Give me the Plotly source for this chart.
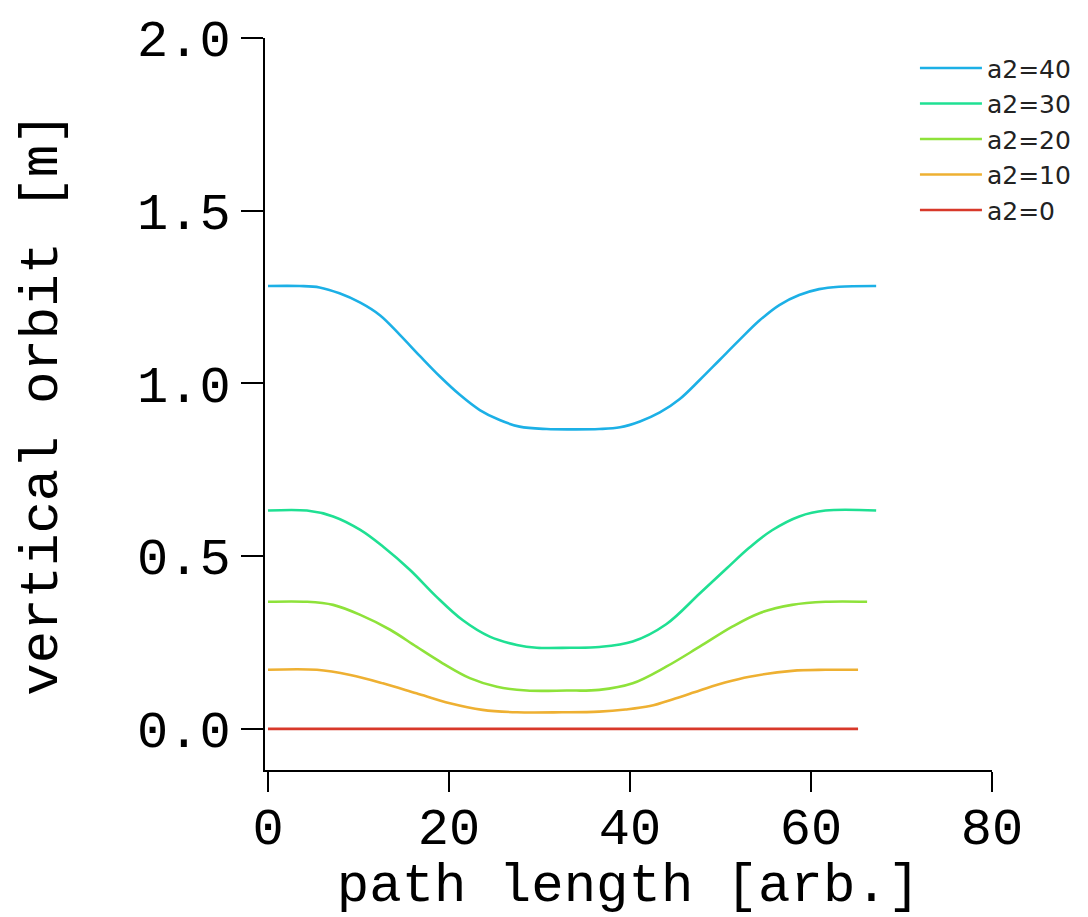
import plotly.graph_objects as go

# ---- data ----
x_a40 = [0, 3.5, 5.7, 7.9, 10.2, 12.4, 14.6, 16.8, 19.0, 21.2, 23.4, 25.6, 27.8, 30.8, 33.7,
         36.6, 38.9, 41.1, 43.3, 45.5, 47.7, 49.9, 52.1, 54.3, 56.5, 58.7, 60.9, 63.1, 67.2]
y_a40 = [1.282, 1.282, 1.278, 1.261, 1.234, 1.197, 1.140, 1.079, 1.020, 0.967, 0.923, 0.894, 0.875, 0.868, 0.867,
         0.868, 0.873, 0.890, 0.916, 0.955, 1.010, 1.068, 1.126, 1.182, 1.227, 1.256, 1.273, 1.280, 1.282]

x_a30 = [0, 4.3, 7.2, 10.2, 12.7, 15.7, 18.6, 21.5, 24.5, 27.5, 29.7, 33.4, 36.6, 40.3, 44.0, 47.7, 50.7, 53.2, 55.7, 58.7, 61.6, 67.2]
y_a30 = [0.632, 0.632, 0.615, 0.576, 0.528, 0.460, 0.383, 0.315, 0.267, 0.243, 0.235, 0.235, 0.237, 0.253, 0.303, 0.392, 0.465, 0.525, 0.575, 0.615, 0.632, 0.632]

x_a20 = [0, 4.3, 7.2, 10.2, 13.5, 16.4, 19.3, 22.3, 25.3, 28.6, 33.0, 36.6, 40.3, 44.0, 47.7, 51.3, 54.3, 57.9, 61.6, 66.2]
y_a20 = [0.368, 0.368, 0.359, 0.330, 0.287, 0.238, 0.190, 0.147, 0.122, 0.111, 0.111, 0.113, 0.132, 0.180, 0.238, 0.296, 0.335, 0.359, 0.368, 0.368]

x_a10 = [0, 5.4, 9.1, 12.7, 16.4, 20.1, 23.7, 27.5, 32.5, 36.6, 39.5, 42.2, 45.0, 47.7, 50.5, 53.2, 57.9, 61.6, 65.2]
y_a10 = [0.171, 0.171, 0.156, 0.132, 0.103, 0.074, 0.055, 0.048, 0.048, 0.050, 0.056, 0.066, 0.088, 0.111, 0.134, 0.151, 0.168, 0.171, 0.171]

x_a0 = [0, 65.2]
y_a0 = [0.0, 0.0]

series_names = ["a2=40", "a2=30", "a2=20", "a2=10", "a2=0"]
series_x = [x_a40, x_a30, x_a20, x_a10, x_a0]
series_y = [y_a40, y_a30, y_a20, y_a10, y_a0]
series_colors = ["#1cb0e6", "#1fe093", "#8ee23a", "#eeb032", "#d8382a"]

x_ticks = [0, 20, 40, 60, 80]
y_ticks = [0.0, 0.5, 1.0, 1.5, 2.0]
y_ticktext = ["0.0", "0.5", "1.0", "1.5", "2.0"]

MONO = "Liberation Mono, Courier New, monospace"

fig = go.Figure()
for name, xs, ys, col in zip(series_names, series_x, series_y, series_colors):
    fig.add_trace(go.Scatter(x=xs, y=ys, mode="lines", name=name,
                             line=dict(color=col, width=2.6, shape="spline", smoothing=1.0)))

# page body has an 8px margin, so the figure is 8px smaller and margins shifted
fig.update_layout(
    width=1080, height=909,
    margin=dict(l=257, r=87, t=30, b=147),
    plot_bgcolor="white", paper_bgcolor="white",
    showlegend=True,
    legend=dict(x=0.894, y=0.99, xanchor="left", yanchor="top",
                font=dict(family="DejaVu Sans, sans-serif", size=25, color="#222"),
                bgcolor="rgba(0,0,0,0)", itemwidth=62, tracegroupgap=0),
)
fig.update_xaxes(
    range=[-0.33, 80], showline=True, linecolor="black", linewidth=2,
    ticks="outside", ticklen=20, tickwidth=2, tickcolor="black",
    tickvals=x_ticks, showgrid=False, zeroline=False, automargin=False,
    ticklabelstandoff=-10,
    tickfont=dict(family=MONO, size=52, color="black"),
    title=dict(text="path length [arb.]", font=dict(family=MONO, size=54, color="black"), standoff=0),
)
fig.update_yaxes(
    range=[-0.119, 2.0], showline=True, linecolor="black", linewidth=2,
    ticks="outside", ticklen=22, tickwidth=2, tickcolor="black",
    tickvals=y_ticks, ticktext=y_ticktext, showgrid=False, zeroline=False, automargin=False,
    tickfont=dict(family=MONO, size=52, color="black"),
    title=dict(text="vertical orbit [m]", font=dict(family=MONO, size=54, color="black"), standoff=62),
)

fig.write_html("out.html")
